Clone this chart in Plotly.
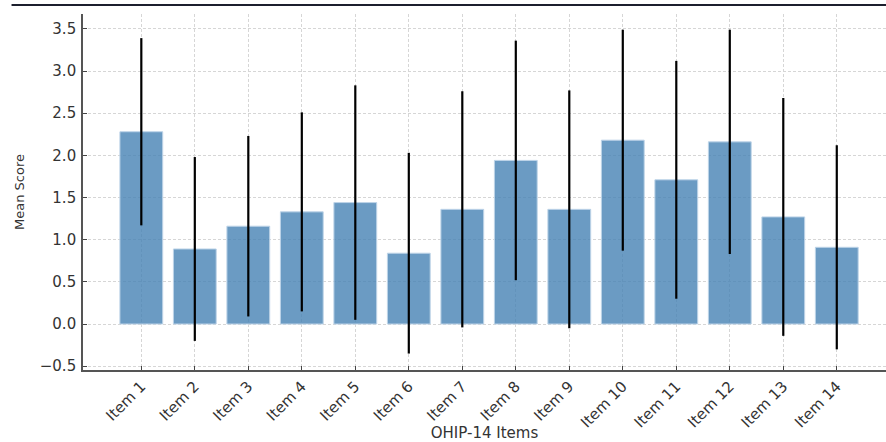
import plotly.graph_objects as go

items = ["Item 1", "Item 2", "Item 3", "Item 4", "Item 5", "Item 6", "Item 7",
         "Item 8", "Item 9", "Item 10", "Item 11", "Item 12", "Item 13", "Item 14"]
mean_scores = [2.28, 0.89, 1.16, 1.33, 1.44, 0.84, 1.36, 1.94, 1.36, 2.18, 1.71, 2.16, 1.27, 0.91]
std_devs = [1.11, 1.09, 1.07, 1.18, 1.39, 1.19, 1.40, 1.42, 1.41, 1.31, 1.41, 1.33, 1.41, 1.21]
y_ticks = [-0.5, 0.0, 0.5, 1.0, 1.5, 2.0, 2.5, 3.0, 3.5]

FONT = "DejaVu Sans"
TXT = "#333333"
GRID = "#d6d6d6"

fig = go.Figure()
fig.add_trace(go.Bar(
    x=list(range(len(items))),
    y=mean_scores,
    width=0.8,
    marker=dict(color="rgba(70,130,180,0.8)",
                line=dict(color="rgba(190,212,232,1)", width=1)),
    error_y=dict(type="data", array=std_devs, visible=True,
                 color="black", thickness=2.2, width=0),
))

fig.update_layout(
    width=886, height=442,
    margin=dict(l=83, r=0, t=14, b=69),
    plot_bgcolor="white", paper_bgcolor="white",
    showlegend=False,
    font=dict(family=FONT, color=TXT, size=13),
    xaxis=dict(
        range=[-1.09, 13.92],
        tickmode="array",
        tickvals=list(range(len(items))),
        ticktext=items,
        tickangle=-45,
        ticks="inside", ticklen=4, tickwidth=1, tickcolor="#444",
        showline=True, linecolor="#555", linewidth=1.6,
        showgrid=True, gridcolor=GRID, griddash="3px,2px", gridwidth=1,
        zeroline=False,
        tickfont=dict(size=15, color=TXT, family=FONT),
        title=dict(text="OHIP-14 Items", font=dict(size=15, color=TXT, family=FONT), standoff=0),
    ),
    yaxis=dict(
        range=[-0.545, 3.676],
        tickmode="array",
        tickvals=y_ticks,
        ticktext=[("\u22120.5" if v < 0 else f"{v:.1f}") for v in y_ticks],
        ticks="inside", ticklen=4, tickwidth=1, tickcolor="#444",
        showline=True, linecolor="#555", linewidth=1.6,
        showgrid=True, gridcolor=GRID, griddash="3px,2px", gridwidth=1,
        zeroline=False,
        tickfont=dict(size=15, color=TXT, family=FONT),
        ticklabelstandoff=2,
        title=dict(text="Mean Score", font=dict(size=13, color=TXT, family=FONT), standoff=12),
    ),
)

fig.add_shape(type="line", xref="paper", yref="paper",
              x0=-0.089, x1=1.0, y0=1.025, y1=1.025,
              line=dict(color="#1c1f2e", width=2))

fig.write_html("out.html", config={"displayModeBar": False},
               post_script="document.body.style.margin='0';")
